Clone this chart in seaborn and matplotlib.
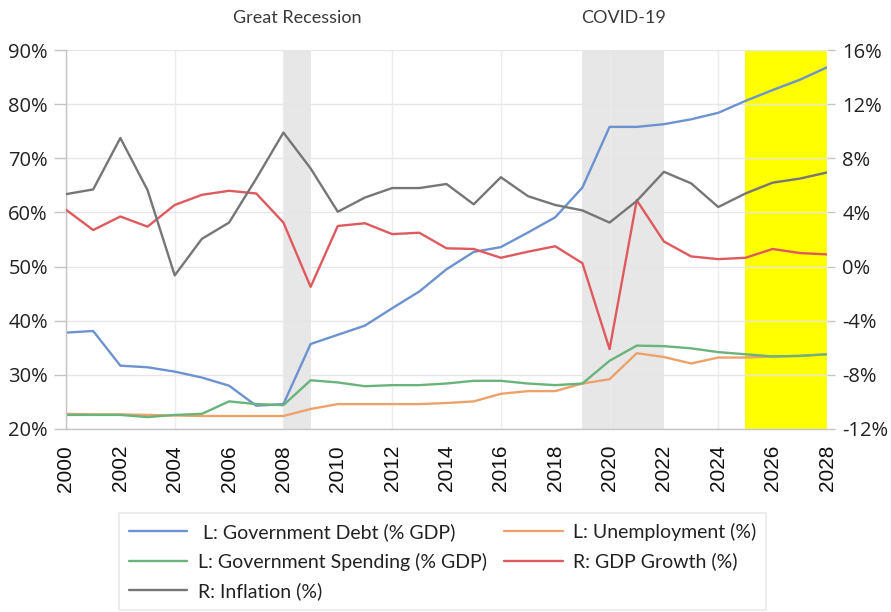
import numpy as np
import pandas as pd
import matplotlib
matplotlib.use("Agg")
import matplotlib.pyplot as plt
from matplotlib.ticker import MultipleLocator, FuncFormatter
import seaborn as sns

years = list(range(2000, 2029))
debt = [37.8, 38.1, 31.7, 31.4, 30.6, 29.5, 28.0, 24.3, 24.6, 35.7, 37.4, 39.1, 42.3, 45.4,
        49.5, 52.7, 53.6, 56.3, 59.1, 64.6, 75.8, 75.8, 76.3, 77.2, 78.4, 80.6, 82.6, 84.5, 86.8]
spending = [22.6, 22.6, 22.6, 22.2, 22.6, 22.8, 25.1, 24.6, 24.4, 29.0, 28.6, 27.9, 28.1, 28.1,
            28.4, 28.9, 28.9, 28.4, 28.1, 28.4, 32.6, 35.4, 35.3, 34.9, 34.2, 33.8, 33.4, 33.5, 33.8]
unemployment = [22.8, 22.7, 22.7, 22.6, 22.5, 22.4, 22.4, 22.4, 22.4, 23.7, 24.6, 24.6, 24.6, 24.6,
                24.8, 25.1, 26.5, 27.0, 27.0, 28.4, 29.2, 34.0, 33.3, 32.1, 33.2, 33.2, 33.4, 33.5, 33.8]
gdp_growth = [4.2, 2.7, 3.7, 2.95, 4.55, 5.3, 5.6, 5.4, 3.25, -1.5, 3.0, 3.2, 2.4, 2.5,
              1.35, 1.3, 0.65, 1.1, 1.5, 0.25, -6.1, 4.9, 1.85, 0.75, 0.55, 0.65, 1.3, 1.0, 0.9]
inflation = [5.35, 5.7, 9.5, 5.65, -0.65, 2.05, 3.25, 6.5, 9.9, 7.25, 4.05, 5.1, 5.8, 5.8,
             6.1, 4.6, 6.6, 5.2, 4.55, 4.15, 3.25, 4.85, 7.0, 6.15, 4.4, 5.4, 6.2, 6.5, 6.95]

labels = {
    "debt": " L: Government Debt (% GDP)",
    "unemp": "L: Unemployment (%)",
    "spend": "L: Government Spending (% GDP)",
    "gdp": "R: GDP Growth (%)",
    "infl": "R: Inflation (%)",
}
colors = {
    "debt": "#6d92d0",
    "unemp": "#eda26c",
    "spend": "#6ab47b",
    "gdp": "#df5a5e",
    "infl": "#767676",
}
recessions = [(2008, 2009, "Great Recession"), (2019, 2022, "COVID-19")]
forecast = (2025, 2028)

df = pd.DataFrame({"year": years, "debt": debt, "spend": spending, "unemp": unemployment,
                   "gdp": gdp_growth, "infl": inflation})

sns.set_style("white")
plt.rcParams["font.family"] = ["Open Sans", "DejaVu Sans"]

fig = plt.figure(figsize=(8.91, 6.12), dpi=100)
ax = fig.add_axes([66 / 891, 1 - 429 / 612, (827 - 66) / 891, (429 - 50) / 612])
ax2 = ax.twinx()

lw = 1.7
# shaded regions
for s, e, _ in recessions:
    ax.axvspan(s, e, color="#e7e7e7", zorder=0.2, lw=0)
ax.axvspan(forecast[0], forecast[1], color="#ffff00", zorder=0.2, lw=0)

# grid
ax.set_axisbelow(True)
ax.grid(axis="y", color="#e6e6e6", lw=1.0, zorder=0.5)
for yv in range(2000, 2029, 4):
    ax.axvline(yv, color="#ececec", lw=1.0, zorder=0.4)

sns.lineplot(data=df, x="year", y="debt", ax=ax, color=colors["debt"], lw=lw, label=labels["debt"], legend=False)
sns.lineplot(data=df, x="year", y="unemp", ax=ax, color=colors["unemp"], lw=lw, label=labels["unemp"], legend=False)
sns.lineplot(data=df, x="year", y="spend", ax=ax, color=colors["spend"], lw=lw, label=labels["spend"], legend=False)
sns.lineplot(data=df, x="year", y="gdp", ax=ax2, color=colors["gdp"], lw=lw, label=labels["gdp"], legend=False)
sns.lineplot(data=df, x="year", y="infl", ax=ax2, color=colors["infl"], lw=lw, label=labels["infl"], legend=False)

ax.set_xlim(2000, 2028)
ax.set_ylim(20, 90)
ax2.set_ylim(-12, 16)
ax.set_xlabel("")
ax.set_ylabel("")
ax2.set_ylabel("")

ax.xaxis.set_major_locator(MultipleLocator(2))
ax.xaxis.set_minor_locator(MultipleLocator(1))
ax.yaxis.set_major_locator(MultipleLocator(10))
ax2.yaxis.set_major_locator(MultipleLocator(4))
ax.yaxis.set_major_formatter(FuncFormatter(lambda v, p: f"{v:.0f}%"))
ax2.yaxis.set_major_formatter(FuncFormatter(lambda v, p: f"{v:.0f}%"))

tick_col = "#c4c4c4"
ax.tick_params(axis="x", which="both", direction="inout", length=15, width=1, color=tick_col,
               labelsize=15, pad=4, labelrotation=90, labelcolor="#111111")
ax.tick_params(axis="y", direction="out", length=9, width=1, color=tick_col,
               labelsize=14.5, pad=4, labelcolor="#222222")
ax2.tick_params(axis="y", direction="out", length=6, width=1, color=tick_col,
                labelsize=14.5, pad=5, labelcolor="#222222")
for lab in ax.get_xticklabels():
    lab.set_fontfamily(["Liberation Sans", "DejaVu Sans"])

for sp in ["top", "right"]:
    ax.spines[sp].set_visible(False)
    ax2.spines[sp].set_visible(False)
for sp in ["left", "bottom"]:
    ax.spines[sp].set_color(tick_col)
    ax.spines[sp].set_linewidth(1)
    ax2.spines[sp].set_visible(False)

# top annotations
for s, e, name in recessions:
    ax.text((s + e) / 2, 1.085, name, transform=ax.get_xaxis_transform(), ha="center", va="center",
            fontsize=13, color="#3a3a3a", family=["Lato", "DejaVu Sans"])

# legend
h1, l1 = ax.get_legend_handles_labels()
h2, l2 = ax2.get_legend_handles_labels()
hd = dict(zip(l1 + l2, h1 + h2))
order = [labels["debt"], labels["spend"], labels["infl"], labels["unemp"], labels["gdp"]]
leg = fig.legend([hd[k] for k in order], order, loc="upper left",
                 bbox_to_anchor=(119 / 891, 1 - 513 / 612), bbox_transform=fig.transFigure,
                 ncol=2, frameon=True, fancybox=False, edgecolor="#e3e3e3",
                 prop={"family": ["Lato", "DejaVu Sans"], "size": 14},
                 handlelength=3.0, handletextpad=0.55, columnspacing=0.9,
                 labelspacing=0.6, borderpad=0.5, borderaxespad=0)
leg.get_frame().set_linewidth(1.2)
for t in leg.get_texts():
    t.set_color("#222222")

fig.savefig("out.png", dpi=100)
